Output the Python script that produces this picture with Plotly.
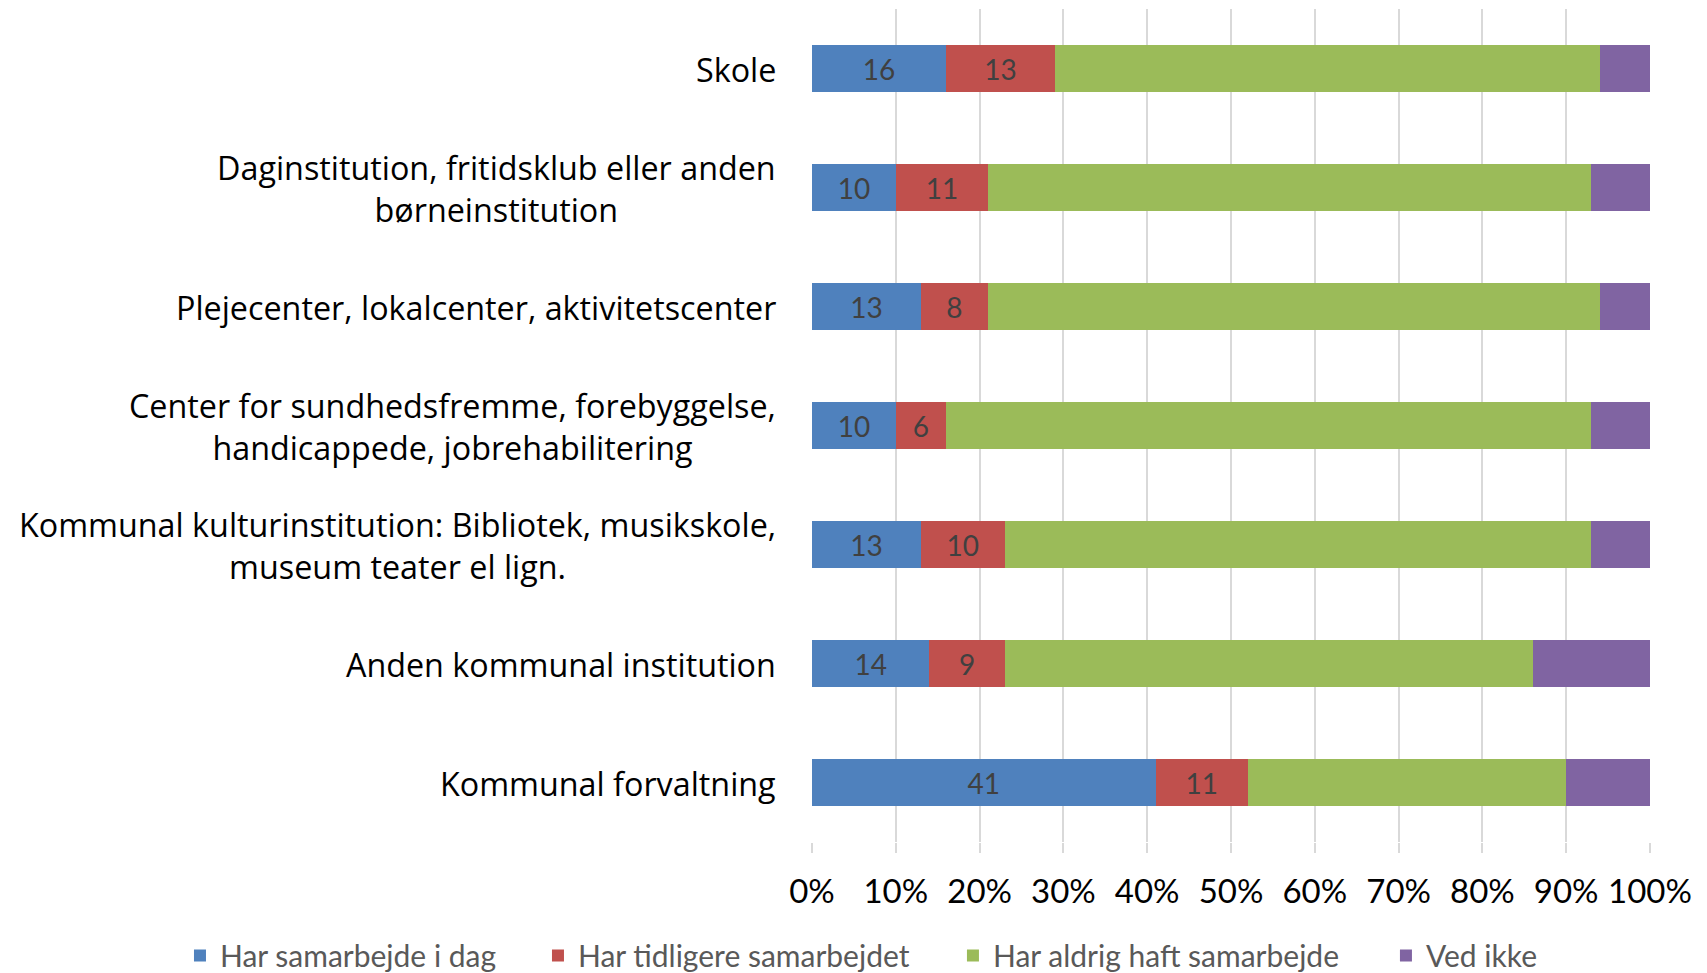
import plotly.graph_objects as go

categories = [
    "Skole",
    "Daginstitution, fritidsklub eller anden<br>børneinstitution",
    "Plejecenter, lokalcenter, aktivitetscenter",
    "Center for sundhedsfremme, forebyggelse,<br>handicappede, jobrehabilitering",
    "Kommunal kulturinstitution: Bibliotek, musikskole,<br>museum teater el lign.",
    "Anden kommunal institution",
    "Kommunal forvaltning",
]
har_i_dag = [16, 10, 13, 10, 13, 14, 41]
tidligere = [13, 11, 8, 6, 10, 9, 11]
aldrig = [65, 72, 73, 77, 70, 63, 38]
ved_ikke = [6, 7, 6, 7, 7, 14, 10]

series = [
    ("Har samarbejde i dag", har_i_dag, "#4F81BD", True),
    ("Har tidligere samarbejdet", tidligere, "#C0504D", True),
    ("Har aldrig haft samarbejde", aldrig, "#9BBB59", False),
    ("Ved ikke", ved_ikke, "#8064A2", False),
]
legend_ids = ["legend", "legend2", "legend3", "legend4"]
legend_x = [-0.7542, -0.3270, 0.1682, 0.6849]

FONT = "Lato"
LABEL_FONT = "Open Sans"
fig = go.Figure()
for (name, vals, color, lab), lid in zip(series, legend_ids):
    fig.add_trace(go.Bar(
        name=name, y=categories, x=[v / 100 for v in vals], orientation="h",
        marker=dict(color=color, line=dict(width=0)),
        text=[str(v) for v in vals] if lab else None,
        textposition="inside" if lab else "none",
        insidetextanchor="middle", textangle=0,
        textfont=dict(family=FONT, size=28, color="#404040"),
        hoverinfo="name+x", legend=lid, showlegend=True,
    ))

for cat in categories:
    fig.add_annotation(
        x=0, xref="paper", y=cat, yref="y", xanchor="right", xshift=-34,
        align="center", showarrow=False, text=cat,
        font=dict(family=LABEL_FONT, size=32.3, color="#000000"),
    )

legend_style = dict(orientation="h", xanchor="left", xref="paper",
                    y=-0.105, yanchor="top", yref="paper",
                    bgcolor="rgba(0,0,0,0)", visible=True,
                    font=dict(family=FONT, size=30, color="#595959"),
                    itemwidth=30)
layout_legends = {lid: dict(legend_style, x=lx) for lid, lx in zip(legend_ids, legend_x)}

fig.update_layout(
    barmode="stack", bargap=0.61, showlegend=True,
    width=1707, height=973,
    margin=dict(l=804, r=65, t=1, b=139, autoexpand=False),
    paper_bgcolor="white", plot_bgcolor="white",
    font=dict(family=FONT, size=29, color="#000000"),
    xaxis=dict(range=[0, 1], tickvals=[i / 10 for i in range(11)], tickformat=".0%",
               showgrid=True, gridcolor="#D9D9D9", gridwidth=1.5, zeroline=False,
               showline=False, ticks="outside", ticklen=10, tickcolor="#D9D9D9",
               tickwidth=1.5, ticklabelstandoff=10,
               tickfont=dict(family=FONT, size=33, color="#000000")),
    yaxis=dict(autorange="reversed", showgrid=False, ticks="", showticklabels=False),
    **layout_legends,
)
fig.write_html("out.html")
